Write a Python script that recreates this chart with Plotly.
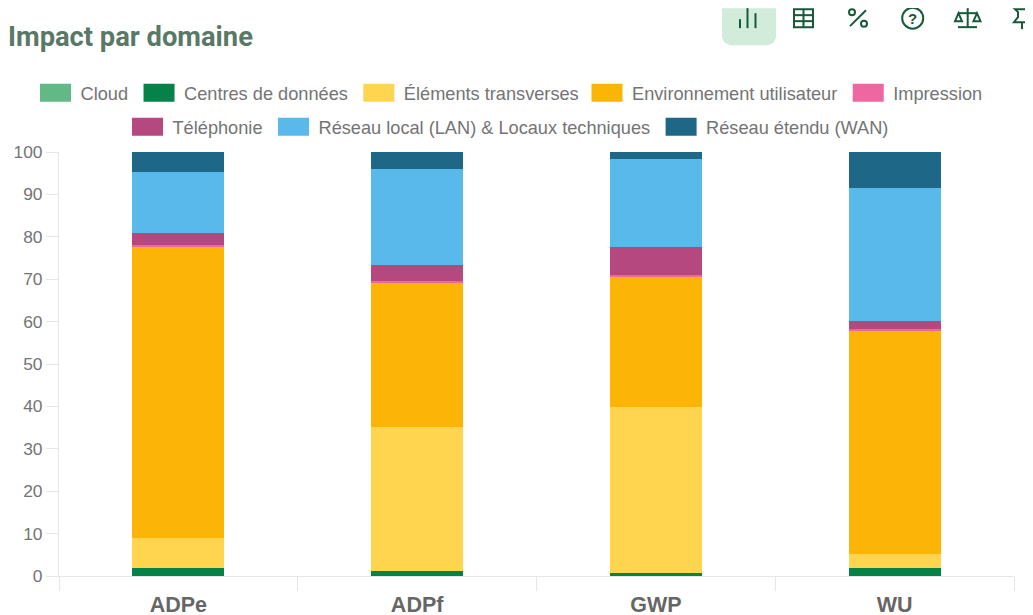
import plotly.graph_objects as go

categories = ["ADPe", "ADPf", "GWP", "WU"]
cloud = [0.05, 0.05, 0.05, 0.05]
centres = [1.95, 1.2, 0.7, 1.95]
elements = [7.0, 34.0, 39.2, 3.3]
environnement = [68.5, 33.8, 30.7, 52.7]
impression = [0.5, 0.5, 0.4, 0.2]
telephonie = [3.0, 3.9, 6.6, 2.0]
lan = [14.3, 22.6, 20.7, 31.3]
wan = [4.7, 4.0, 1.6, 8.5]
series_names = ["Cloud", "Centres de données", "Éléments transverses", "Environnement utilisateur",
                "Impression", "Téléphonie", "Réseau local (LAN) & Locaux techniques", "Réseau étendu (WAN)"]
series_values = [cloud, centres, elements, environnement, impression, telephonie, lan, wan]
colors = ["#62B986", "#048247", "#FFD44F", "#FCB407", "#EE67A0", "#B4487F", "#59B9EA", "#1F6787"]
legend_rows = ["legend", "legend", "legend", "legend3", "legend3", "legend2", "legend2", "legend2"]
y_ticks = list(range(0, 101, 10))

FW, FH = 1033, 615
L, R, T, B = 51, 27, 144, 46.5
TXT = "#747474"
GREEN = "#17593A"


def sx(x):
    return (x - 8 - L) / (FW - L - R)


def sy(y):
    return 1 - (y - 8 - T) / (FH - T - B)


def cx(x):
    return (x - 8) / FW


def cy(y):
    return 1 - (y - 8) / FH


def poly(points, close=False):
    s = " ".join(("M" if i == 0 else "L") + f" {sx(x):.5f} {sy(y):.5f}" for i, (x, y) in enumerate(points))
    return s + (" Z" if close else "")


def line_shape(points, width=2.0, close=False, fill=None):
    return dict(type="path", xref="paper", yref="paper", path=poly(points, close),
                line=dict(color=GREEN, width=width), fillcolor=fill or "rgba(0,0,0,0)")


def circle(x, y, r, width=2.0):
    return dict(type="circle", xref="paper", yref="paper", x0=sx(x - r), x1=sx(x + r), y0=sy(y + r), y1=sy(y - r),
                line=dict(color=GREEN, width=width))


icons = [
    dict(type="path", xref="paper", yref="paper", fillcolor="#D1ECDB", line=dict(width=0),
         path=poly([(722, 8), (722, 37), (724, 42), (730, 45), (768, 45), (774, 42), (776, 37), (776, 8)], True)),
    line_shape([(740, 19), (740, 28)]), line_shape([(747.5, 8), (747.5, 28)]), line_shape([(755.5, 13), (755.5, 28)]),
    line_shape([(794, 9), (813, 9), (813, 27), (794, 27)], close=True),
    line_shape([(794, 15), (813, 15)]), line_shape([(794, 21), (813, 21)]), line_shape([(803.5, 9), (803.5, 27)]),
    line_shape([(850, 26), (866, 10)]), circle(852, 12, 3), circle(864, 23.5, 3),
    circle(912.7, 18, 10.5),
    line_shape([(967.7, 8), (967.7, 27)]), line_shape([(958, 27), (977, 27)]), line_shape([(958, 13), (977, 13)]),
    line_shape([(958.5, 13), (955, 21), (962, 21)], close=True), line_shape([(977, 13), (973.5, 21), (980.5, 21)], close=True),
    line_shape([(1015, 9), (1029, 9), (1026, 12), (1026, 17), (1030, 22), (1014, 22), (1018, 17), (1018, 12)], close=True),
    line_shape([(1022, 22), (1022, 29)]),
]

fig = go.Figure()
for n, v, c, lg in zip(series_names, series_values, colors, legend_rows):
    fig.add_bar(x=categories, y=v, name=n, legend=lg, marker=dict(color=c, line=dict(width=0)))

legend_style = dict(orientation="h", xanchor="left", yanchor="middle", traceorder="normal",
                    xref="container", yref="container",
                    itemwidth=41, font=dict(size=18.2, color=TXT, family="Liberation Sans"),
                    bgcolor="rgba(0,0,0,0)", borderwidth=0)
fig.update_layout(
    width=FW, height=FH, barmode="stack", bargap=0.615,
    paper_bgcolor="white", plot_bgcolor="white",
    margin=dict(l=L, r=R, t=T, b=B, pad=0, autoexpand=False),
    font=dict(family="Liberation Sans", color=TXT, size=17),
    title=dict(text="<b>Impact par domaine</b>", x=0.0, xanchor="left", xref="container", y=cy(36), yanchor="middle",
               font=dict(family="Roboto", size=27.3, color="#597866")),
    legend=dict(x=cx(40 - 10.5), y=cy(93), **legend_style),
    legend3=dict(x=cx(591.5 - 10.5), y=cy(93), **legend_style),
    legend2=dict(x=cx(132 - 10.5), y=cy(127), **legend_style),
    xaxis=dict(type="category", automargin=False, showgrid=False, showline=True, linecolor="#e6e6e6", ticks="outside",
               ticklen=13.5, tickcolor="#e6e6e6", tickson="boundaries", ticklabelstandoff=9,
               tickfont=dict(size=21.5, color="#666666", family="Liberation Sans"),
               ticktext=[f"<b>{c}</b>" for c in categories], tickvals=categories),
    yaxis=dict(range=[0, 100], automargin=False, tickvals=y_ticks, showgrid=False, showline=True, linecolor="#e6e6e6",
               ticks="outside", ticklen=12, tickcolor="#e6e6e6", zeroline=False,
               tickfont=dict(size=17.4, color=TXT, family="Liberation Sans")),
    shapes=icons,
    annotations=[
        dict(text="<b>?</b>", xref="paper", yref="paper", x=sx(912.7), y=sy(18), showarrow=False,
             font=dict(size=15, color=GREEN, family="Liberation Sans"), xanchor="center", yanchor="middle"),
    ],
)

# Chart-style rectangular legend swatches instead of plotly's small squares
post = """
document.documentElement.style.overflow = 'hidden';
document.body.style.overflow = 'hidden';
var gd = document.querySelector('.plotly-graph-div');
var sel = 'path.legendbar, .legendpoints path';
function swatches() {
  gd.querySelectorAll(sel).forEach(function (p) {
    p.setAttribute('d', 'M16,9H-15V-9H16Z');
  });
}
swatches();
gd.on('plotly_afterplot', swatches);
[0, 50, 200, 500, 1000].forEach(function (t) { setTimeout(swatches, t); });
"""
fig.write_html("out.html", post_script=post, default_width="1033px", default_height="615px")
